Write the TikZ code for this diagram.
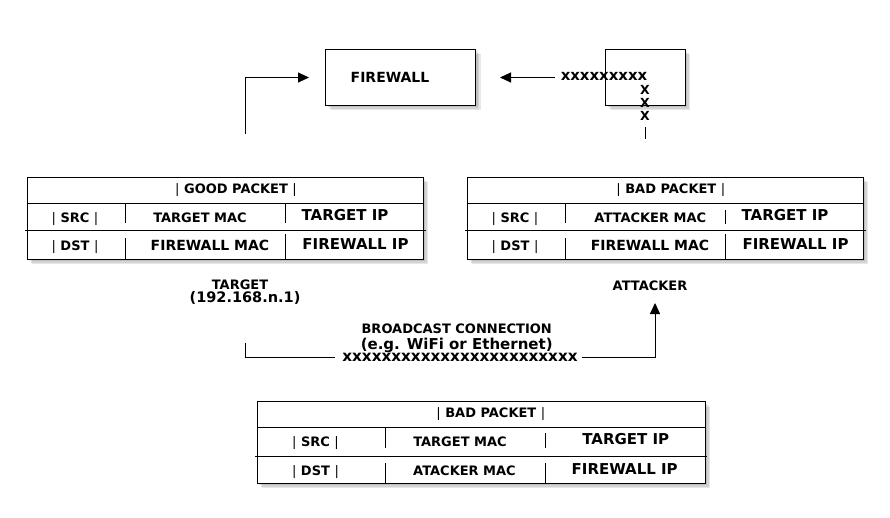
\documentclass[tikz,border=0pt]{standalone}
\usepackage{fontspec}
\setmainfont{DejaVu Sans}
\usetikzlibrary{arrows.meta,shadows}
\newcommand\pbar{{\mdseries|}}
\begin{document}
\begin{tikzpicture}[x=1pt,y=-1pt,
  ln/.style={line width=1pt, draw=black},
  boxsh/.style={draw=black, line width=1pt, fill=white, inner sep=0pt, rectangle,
    general shadow={fill=black, opacity=0.09, shadow xshift=2pt, shadow yshift=-2pt},
    general shadow={fill=black, opacity=0.09, shadow xshift=3.5pt, shadow yshift=-3.5pt},
    general shadow={fill=black, opacity=0.09, shadow xshift=5pt, shadow yshift=-5pt}},
  arr/.style={ln, -{Triangle[length=11pt,width=10pt]}},
  txt/.style={inner sep=0pt, anchor=base, font=\bfseries\fontsize{#1}{#1}\selectfont},
]
\useasboundingbox[fill=white] (0,0) rectangle (890,518);

% ---------- top boxes ----------
\node[boxsh, minimum width=150pt, minimum height=55.7pt] (fw) at (400.7,77.2) {};
\node[txt=14] (fwtext) at (390,82.6) {FIREWALL};
\node[boxsh, minimum width=79.6pt, minimum height=55.7pt] (atkbox) at (645.5,77.2) {};

% arrow from target side to firewall
\coordinate (gstart) at (245.7,134);
\coordinate (gend) at (309,77.5);
\draw[arr] (gstart) |- (gend);

% arrow from attacker side (blocked) to firewall
\coordinate (astart) at (555,77.5);
\coordinate (aend) at (500,77.5);
\draw[arr] (astart) -- (aend);
\node[txt=14.9] (xtop) at (604,80.7) {xxxxxxxxx};
\node[txt=12.5] (x1) at (645,95) {X};
\node[txt=12.5] (x2) at (645,108) {X};
\node[txt=12.5] (x3) at (645,121) {X};
\coordinate (xl1) at (645,127);
\coordinate (xl2) at (645,139.3);
\draw[ln] (xl1) -- (xl2);

% ---------- good packet table ----------
\node[boxsh, minimum width=395.7pt, minimum height=81.7pt] (good) at (225.2,218.2) {};
\draw[ln] (27.3,203.3) -- (423,203.3);
\draw[ln] (25,231) -- (426,231);
\draw[ln] (125.7,203.3) -- (125.7,223.3) (125.7,238) -- (125.7,259);
\draw[ln] (285.7,203.3) -- (285.7,223.3) (285.7,234) -- (285.7,259);
\node[txt=13] (gtitle) at (236,194) {\pbar{} GOOD PACKET \pbar};
\node[txt=13] (gsrc) at (75,222.5) {\pbar{} SRC \pbar};
\node[txt=13] (gsmac) at (200,222.7) {TARGET MAC};
\node[txt=15] (gsip) at (345,220.3) {TARGET IP};
\node[txt=13] (gdst) at (75,250.5) {\pbar{} DST \pbar};
\node[txt=14] (gdmac) at (210,250.5) {FIREWALL MAC};
\node[txt=15] (gdip) at (355.5,250) {FIREWALL IP};

% ---------- bad packet table (right) ----------
\node[boxsh, minimum width=395.7pt, minimum height=81.7pt] (bad) at (665.3,218.2) {};
\draw[ln] (467.3,203.3) -- (863.3,203.3);
\draw[ln] (465,231) -- (866,231);
\draw[ln] (565.7,203.3) -- (565.7,223.3) (565.7,238) -- (565.7,259);
\draw[ln] (725.7,210) -- (725.7,224) (725.7,234.3) -- (725.7,259);
\node[txt=13] (btitle) at (670.8,194) {\pbar{} BAD PACKET \pbar};
\node[txt=13] (bsrc) at (515,222.5) {\pbar{} SRC \pbar};
\node[txt=13] (bsmac) at (650.3,222.7) {ATTACKER MAC};
\node[txt=15] (bsip) at (785,220.3) {TARGET IP};
\node[txt=13] (bdst) at (515,250.5) {\pbar{} DST \pbar};
\node[txt=14] (bdmac) at (650,250.5) {FIREWALL MAC};
\node[txt=15] (bdip) at (795.5,250) {FIREWALL IP};

% ---------- middle labels and broadcast connection ----------
\node[txt=13] (tgt) at (240,289.8) {TARGET};
\node[txt=14.5] (tgtip) at (245,302) {(192.168.n.1)};
\node[txt=13] (atk) at (650,290.7) {ATTACKER};
\node[txt=13] (bc1) at (456.7,333.6) {BROADCAST CONNECTION};
\node[txt=15] (bc2) at (456.7,349.8) {(e.g. WiFi or Ethernet)};
\node[txt=15.2] (bcx) at (460,361.7) {xxxxxxxxxxxxxxxxxxxxxxxx};
\coordinate (bl1) at (245.7,342.7);
\coordinate (bl2) at (335,357.3);
\coordinate (br1) at (581.7,357.3);
\coordinate (br2) at (655,303);
\draw[ln] (bl1) |- (bl2);
\draw[arr] (br1) -| (br2);

% ---------- bottom bad packet table ----------
\node[boxsh, minimum width=447.7pt, minimum height=81.3pt] (bad2) at (481.2,442.4) {};
\draw[ln] (257.3,427.3) -- (705,427.3);
\draw[ln] (255,456) -- (707,456);
\draw[ln] (385,427.3) -- (385,448.3) (385,463) -- (385,483);
\draw[ln] (545.7,433) -- (545.7,448) (545.7,462.7) -- (545.7,483);
\node[txt=13] (ctitle) at (490.8,417.3) {\pbar{} BAD PACKET \pbar};
\node[txt=13] (csrc) at (315.5,446.5) {\pbar{} SRC \pbar};
\node[txt=13] (csmac) at (460,446.5) {TARGET MAC};
\node[txt=15] (csip) at (625.8,444.8) {TARGET IP};
\node[txt=13] (cdst) at (315.5,475) {\pbar{} DST \pbar};
\node[txt=13] (cdmac) at (464.5,475) {ATACKER MAC};
\node[txt=15] (cdip) at (624.7,474.5) {FIREWALL IP};
\end{tikzpicture}
\end{document}
